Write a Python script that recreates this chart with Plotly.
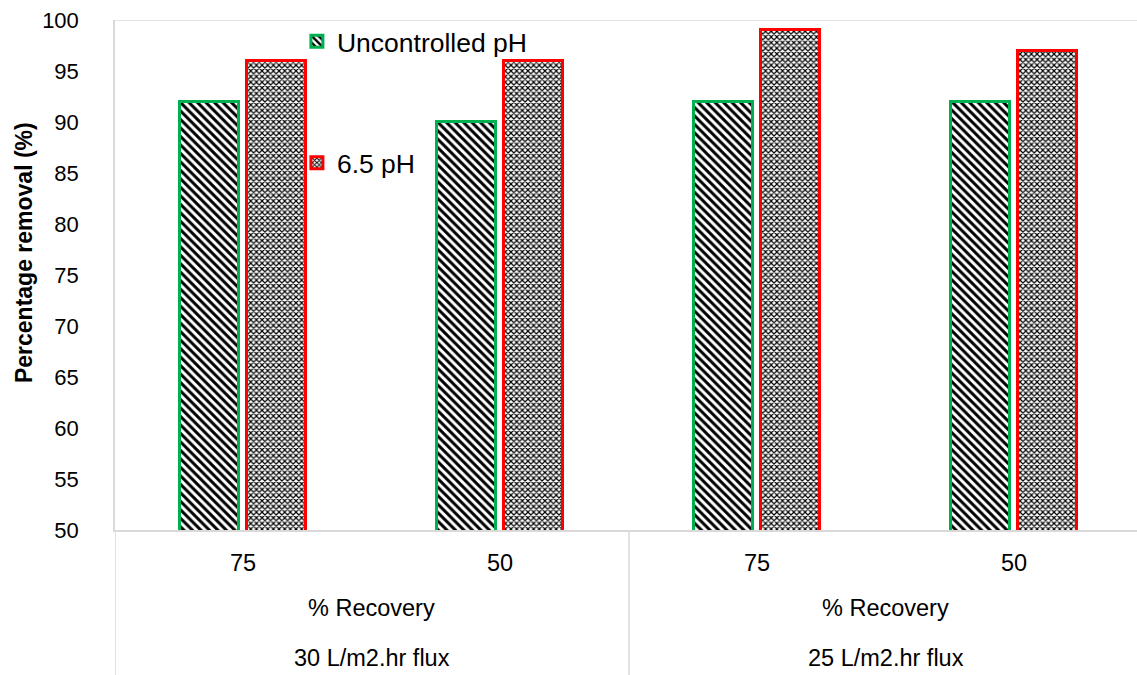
import plotly.graph_objects as go

# ---- data ----
recovery_labels = ["75", "50", "75", "50"]
level2_labels = ["% Recovery", "% Recovery"]
flux_labels = ["30 L/m2.hr flux", "25 L/m2.hr flux"]
uncontrolled = [92, 90, 92, 92]
ph65 = [96, 96, 99, 97]
series_names = ["Uncontrolled pH", "6.5 pH"]

FONT = "Liberation Sans, Arial, sans-serif"
GREEN = "#00B050"
RED = "#FF0000"
GRID = "#D9D9D9"
FS = 23.5

x = list(range(len(recovery_labels)))

fig = go.Figure()
fig.add_trace(go.Bar(
    x=x, y=uncontrolled, name=series_names[0], legendgroup="a",
    width=0.23, offset=-0.247,
    marker=dict(color="white", line=dict(color=GREEN, width=3),
                pattern=dict(shape="\\", fgcolor="black", bgcolor="white",
                             fgopacity=1, fillmode="replace",
                             size=6, solidity=0.5)),
))
fig.add_trace(go.Bar(
    x=x, y=ph65, name=series_names[1], legendgroup="b",
    width=0.23, offset=0.013,
    marker=dict(color="white", line=dict(color=RED, width=3),
                pattern=dict(shape="x", fgcolor="black", bgcolor="white",
                             fgopacity=1, fillmode="replace",
                             size=4, solidity=0.5)),
))

annotations = []
# level 1 tick labels
for i, lab in enumerate(recovery_labels):
    annotations.append(dict(x=i, y=0, xref="x", yref="paper", text=lab,
                            showarrow=False, yanchor="middle", yshift=-33,
                            font=dict(size=FS, color="black", family=FONT)))
n_groups = len(flux_labels)
per = len(recovery_labels) // n_groups
for g in range(n_groups):
    cx = g * per + (per - 1) / 2
    annotations.append(dict(x=cx, y=0, xref="x", yref="paper", text=level2_labels[g],
                            showarrow=False, yanchor="middle", yshift=-78,
                            font=dict(size=FS, color="black", family=FONT)))
    annotations.append(dict(x=cx, y=0, xref="x", yref="paper", text=flux_labels[g],
                            showarrow=False, yanchor="middle", yshift=-128,
                            font=dict(size=FS, color="black", family=FONT)))
# y-axis title
annotations.append(dict(x=0, y=0.543, xref="paper", yref="paper",
                        text="<b>Percentage removal (%)</b>", textangle=-90,
                        showarrow=False, xanchor="center", yanchor="middle", xshift=-91,
                        font=dict(size=23, color="black", family=FONT)))

shapes = [
    dict(type="line", xref="paper", yref="y", x0=0, x1=1, y0=100, y1=100,
         line=dict(color=GRID, width=1.5)),
]
for g in range(n_groups):
    xb = g * per - 0.5
    shapes.append(dict(type="line", xref="x", yref="paper", x0=xb, x1=xb,
                       y0=0, y1=-0.3, line=dict(color=GRID, width=1.5)))

fig.update_layout(
    width=1137, height=675,
    margin=dict(l=115, r=0, t=20, b=145),
    paper_bgcolor="white", plot_bgcolor="white",
    font=dict(family=FONT, color="black", size=FS),
    showlegend=True,
    legend=dict(x=0.178, y=1.005, xanchor="left", yanchor="top",
                traceorder="grouped", tracegroupgap=84,
                bgcolor="rgba(0,0,0,0)",
                font=dict(size=26.5, family=FONT, color="black")),
    xaxis=dict(range=[-0.5, 3.477], showticklabels=False, ticks="",
               showgrid=False, zeroline=False, showline=True,
               linecolor=GRID, linewidth=1.5),
    yaxis=dict(range=[50, 100], dtick=5, showgrid=False, zeroline=False,
               showline=True, linecolor=GRID, linewidth=1.5, ticks="",
               ticklabelstandoff=30,
               tickfont=dict(size=22, family=FONT, color="black")),
    annotations=annotations,
    shapes=shapes,
    bargap=0, bargroupgap=0,
)

fig.write_html("out.html")
